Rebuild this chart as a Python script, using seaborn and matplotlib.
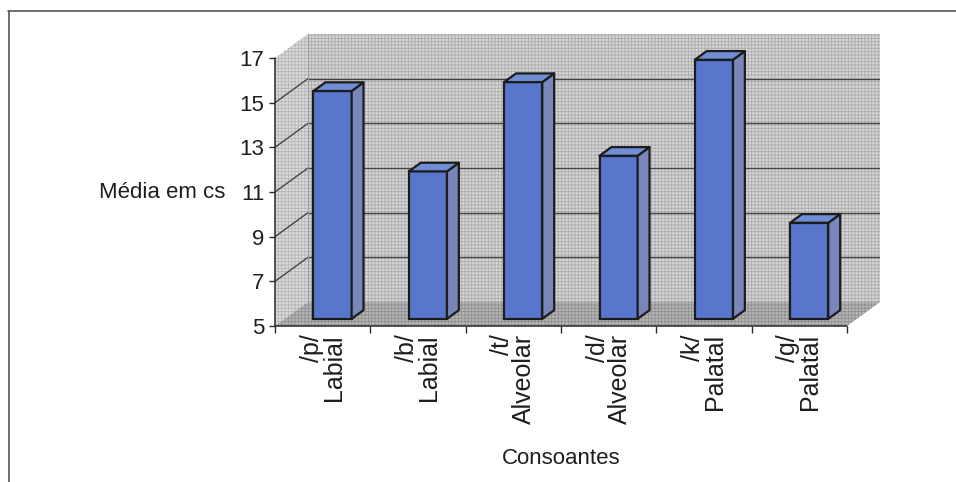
import numpy as np
import pandas as pd
import matplotlib
matplotlib.use("Agg")
import matplotlib.pyplot as plt
from matplotlib.patches import Polygon
from matplotlib.lines import Line2D
import seaborn as sns

# Data
consoantes = ["/p/\nLabial", "/b/\nLabial", "/t/\nAlveolar",
              "/d/\nAlveolar", "/k/\nPalatal", "/g/\nPalatal"]
media_cs = [15.2, 11.6, 15.6, 12.3, 16.6, 9.3]
y_ticks = [5, 7, 9, 11, 13, 15, 17]

sns.set_theme(style="white")
plt.rcParams["font.family"] = ["Liberation Sans", "DejaVu Sans"]
plt.rcParams["hatch.linewidth"] = 0.6

TXT = "#1e1e1e"
FS = 16
FS_X = 18

fig = plt.figure(figsize=(9.56, 4.82), dpi=100)
ax = fig.add_axes([275 / 956, 156 / 482, 605 / 956, 292 / 482])

# pseudo-3D geometry (data units)
Y0, Y1 = y_ticks[0], y_ticks[-1]
DX, DY = 0.346, 1.075          # depth of the plot box
F, G = 0.30, 0.36              # bar front offset and bar depth (fraction of DX/DY)
n = len(consoantes)
x0, x1 = -0.5, n - 0.5

df = pd.DataFrame({"Consoantes": consoantes, "Média em cs": media_cs})
sns.barplot(data=df, x="Consoantes", y="Média em cs", width=0.4,
            color="#5877cc", saturation=1, edgecolor="#1c1c1c",
            linewidth=1.6, ax=ax, zorder=5)

# turn flat bars into boxes standing on the floor
for patch in ax.containers[0]:
    top = patch.get_height()
    xl = patch.get_x() + F * DX
    w = patch.get_width()
    patch.set_x(xl)
    patch.set_y(Y0 + F * DY)
    patch.set_height(top - Y0)
    yb, yt = Y0 + F * DY, top + F * DY
    side = Polygon([(xl + w, yb), (xl + w, yt),
                    (xl + w + G * DX, yt + G * DY), (xl + w + G * DX, yb + G * DY)],
                   closed=True, facecolor="#7886ba", edgecolor="#1c1c1c",
                   linewidth=1.6, joinstyle="round", zorder=5)
    cap = Polygon([(xl, yt), (xl + w, yt),
                   (xl + w + G * DX, yt + G * DY), (xl + G * DX, yt + G * DY)],
                  closed=True, facecolor="#6f8ed6", edgecolor="#1c1c1c",
                  linewidth=1.6, joinstyle="round", zorder=5)
    ax.add_patch(side)
    ax.add_patch(cap)

# walls and floor, with a fine grid texture
tex = "+" * 5
ax.add_patch(Polygon([(x0, Y0), (x0, Y1), (x0 + DX, Y1 + DY), (x0 + DX, Y0 + DY)],
                     closed=True, facecolor="#dcdcdc", edgecolor="#b4b4b4",
                     linewidth=0, hatch=tex, zorder=0))
ax.add_patch(Polygon([(x0 + DX, Y0 + DY), (x1 + DX, Y0 + DY),
                      (x1 + DX, Y1 + DY), (x0 + DX, Y1 + DY)],
                     closed=True, facecolor="#d6d6d6", edgecolor="#ababab",
                     linewidth=0, hatch=tex, zorder=0))
ax.add_patch(Polygon([(x0, Y0), (x1, Y0), (x1 + DX, Y0 + DY), (x0 + DX, Y0 + DY)],
                     closed=True, facecolor="#b6b6b6", edgecolor="#8e8e8e",
                     linewidth=0, hatch=tex, zorder=0))

# gridlines on the back and side walls
for y in y_ticks[1:-1]:
    ax.plot([x0 + DX, x1 + DX], [y + DY, y + DY], color="#454545", lw=1.0, zorder=1)
    ax.plot([x0, x0 + DX], [y, y + DY], color="#454545", lw=1.0, zorder=1)
ax.plot([x0 + DX, x0 + DX], [Y0 + DY, Y1 + DY], color="#9a9a9a", lw=0.8, zorder=1)

# axis lines
ax.plot([x0, x0], [Y0, Y1], color="#2a2a2a", lw=1.1, zorder=6, clip_on=False)
ax.plot([x0, x1], [Y0, Y0], color="#2a2a2a", lw=1.1, zorder=6, clip_on=False)

ax.set_xlim(x0, x1 + DX)
ax.set_ylim(Y0, Y1 + DY)
for s in ax.spines.values():
    s.set_visible(False)

ax.set_yticks(y_ticks)
ax.set_yticklabels([str(t) for t in y_ticks])
ax.tick_params(axis="y", left=True, length=4.5, width=1, color="#2a2a2a",
               pad=3, labelsize=FS, labelcolor=TXT)

ax.set_xticks(np.arange(x0, x1 + 0.01, 1.0), minor=True)
ax.tick_params(axis="x", which="major", bottom=True, length=0, pad=6,
               labelsize=FS_X, labelcolor=TXT)
ax.tick_params(axis="x", which="minor", bottom=True, length=5, width=1,
               color="#2a2a2a")
for lab in ax.get_xticklabels():
    lab.set_rotation(90)
    lab.set_multialignment("right")
    lab.set_linespacing(0.9)

ax.set_xlabel("Consoantes", fontsize=FS, color=TXT)
ax.xaxis.set_label_coords(0.4727, -0.455)
ax.xaxis.label.set_va("center")
ax.set_ylabel("Média em cs", fontsize=FS, color=TXT, rotation=0,
              ha="right", va="center")
ax.yaxis.set_label_coords(-0.0826, 0.4555)

# outer frame (top and left edges)
fig.add_artist(Line2D([8 / 956, 1], [1 - 11 / 482] * 2, transform=fig.transFigure,
                      color="#555555", lw=1.2))
fig.add_artist(Line2D([9 / 956] * 2, [0, 1 - 11 / 482], transform=fig.transFigure,
                      color="#555555", lw=1.2))

fig.savefig("out.png", dpi=100)
